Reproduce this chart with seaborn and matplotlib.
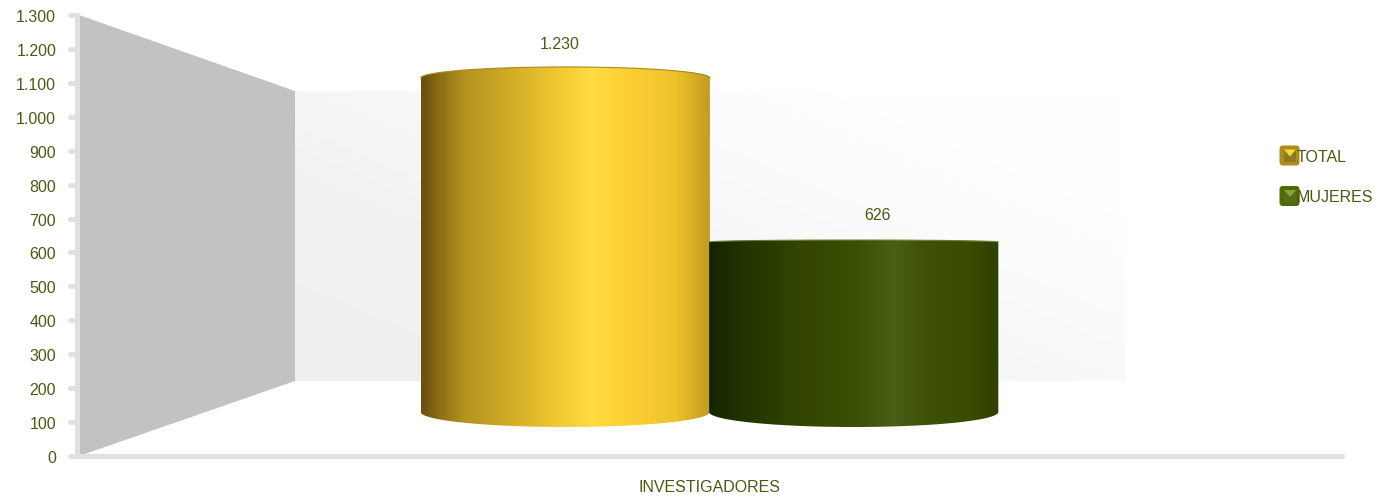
"""Investigadores: total y mujeres (cilindros 3D falsos)"""

import numpy as np
import pandas as pd
import matplotlib.pyplot as plt
import seaborn as sns
from matplotlib.colors import LinearSegmentedColormap
from matplotlib.markers import MarkerStyle, TICKLEFT
from matplotlib.patches import FancyBboxPatch, Polygon, Rectangle
from matplotlib.ticker import FuncFormatter
from matplotlib.transforms import ScaledTranslation

categories = ['INVESTIGADORES']
series_names = ['TOTAL', 'MUJERES']
series_values = [1230, 626]
y_ticks = list(range(0, 1400, 100))

W, H = 1378, 499
TEXT = '#4a5a12'
AXIS = '#e0e0e0'
FONT = 11.5

sns.set_theme(style='white')
plt.rcParams['font.family'] = ['Liberation Sans', 'DejaVu Sans']

fig = plt.figure(figsize=(W / 100, H / 100), dpi=100, facecolor='white')


def px_axes(x0, x1, y_top, y_bottom, **kw):
    return fig.add_axes([x0 / W, 1 - y_bottom / H, (x1 - x0) / W, (y_bottom - y_top) / H], **kw)


def miles(v):
    return f'{int(v):,}'.replace(',', '.')


# capa de pixeles para paredes y textos
bg = px_axes(0, W, 0, H)
xx, yy = np.meshgrid(np.linspace(0, 1, 300), np.linspace(0, 1, 150))
wall_cmap = LinearSegmentedColormap.from_list(
    'wall', [(0, '#efefef'), (0.3, '#f1f1f1'), (0.55, '#f9f9f9'), (0.8, '#fefefe'), (1, '#ffffff')])
bg.imshow(xx * 0.55 + (1 - yy) * 0.45, extent=(295, 1125, 381, 91), cmap=wall_cmap, vmin=0, vmax=1,
          aspect='auto', zorder=1)
bg.add_patch(Polygon([(79, 15), (295, 91), (295, 381), (79, 456)], closed=True,
                     facecolor='#c2c2c2', edgecolor='none', zorder=2))
bg.set_xlim(0, W)
bg.set_ylim(H, 0)
bg.axis('off')

# eje frontal: 0 en y=456, 1300 en y=15
front = px_axes(77, 1342, 15, 456)
front.patch.set_alpha(0)
front.set_xlim(0, 1)
front.set_ylim(0, y_ticks[-1])
front.set_yticks(y_ticks)
front.yaxis.set_major_formatter(FuncFormatter(lambda v, _: miles(v)))
front.set_xticks([])
front.tick_params(axis='y', left=True, length=5, width=3.6, color=AXIS, labelcolor=TEXT,
                  labelsize=FONT, pad=10)
one_px_down = ScaledTranslation(0, -1 / 100, fig.dpi_scale_trans)
for t in front.yaxis.get_major_ticks():
    t.tick1line.set_marker(MarkerStyle(TICKLEFT, capstyle='round'))
    t.label1.set_transform(t.label1.get_transform() + one_px_down)
sns.despine(ax=front, top=True, right=True)
for side in ['left', 'bottom']:
    front.spines[side].set_color(AXIS)
    front.spines[side].set_linewidth(3.6)
    front.spines[side].set_capstyle('round')

# cilindros: profundidad media, 0 en y=412, 1300 en y=59
BAR_BOTTOM, BAR_TOP = 412, 59
HORIZON = 236
df = pd.DataFrame({'cat': categories * 2, 'serie': series_names, 'valor': series_values})
bars = px_axes(77, 1342, BAR_TOP, BAR_BOTTOM)
bars.patch.set_alpha(0)
palette = {'TOTAL': '#d9ad28', 'MUJERES': '#364a05'}
sns.barplot(data=df, x='cat', y='valor', hue='serie', hue_order=series_names, palette=palette,
            width=0.456, gap=0, legend=False, ax=bars, saturation=1)
bar_patches = list(bars.patches)

ramps = {
    'TOTAL': [(0, '#67500f'), (0.06, '#8a6c14'), (0.15, '#b3931f'), (0.3, '#d0ab26'),
              (0.45, '#ecc530'), (0.59, '#ffdc40'), (0.72, '#fcd034'), (0.88, '#eec22b'),
              (1, '#c09b20')],
    'MUJERES': [(0, '#142400'), (0.12, '#243400'), (0.3, '#324400'), (0.5, '#3b4e05'),
                (0.64, '#4a5e16'), (0.75, '#3e5106'), (0.9, '#3a4c00'), (1, '#2f4000')],
}
rims = {'TOTAL': '#a98a1c', 'MUJERES': '#6f7f3a'}
label_shift = {'TOTAL': (-6, 34), 'MUJERES': (24, 27)}
units_per_px = y_ticks[-1] / (BAR_BOTTOM - BAR_TOP)

t_low = np.linspace(np.pi, 2 * np.pi, 80)
t_up = np.linspace(0, np.pi, 80)

for patch, name, value in zip(bar_patches, series_names, series_values):
    x0, w = patch.get_x(), patch.get_width()
    patch.set_visible(False)
    cx = x0 + w / 2
    half_w = w / 2 + 0.0003
    top_px = BAR_BOTTOM - value / units_per_px
    base_h = 15 * units_per_px
    cap_h = max(2, 0.07 * abs(top_px - HORIZON)) * units_per_px

    # silueta: base eliptica + tapa eliptica
    low = np.c_[cx + half_w * np.cos(t_low), base_h * np.sin(t_low)]
    up = np.c_[cx + half_w * np.cos(t_up), value + cap_h * np.sin(t_up)]
    sil = Polygon(np.r_[low, up], closed=True, transform=bars.transData,
                  facecolor='none', edgecolor='none')
    bars.add_patch(sil)
    sil.set_clip_on(False)

    cmap = LinearSegmentedColormap.from_list(name, ramps[name])
    im = bars.imshow(np.linspace(0, 1, 256).reshape(1, -1),
                     extent=(cx - half_w, cx + half_w, -base_h, value + cap_h),
                     cmap=cmap, aspect='auto', zorder=3)
    im.set_clip_box(fig.bbox)
    im.set_clip_path(sil)

    # borde fino de la tapa
    bars.plot(up[:, 0], up[:, 1], color=rims[name], lw=0.8, zorder=4, clip_on=False)

    dx, dy = label_shift[name]
    bars.annotate(miles(value), (cx, value), xytext=(dx, dy), textcoords='offset pixels',
                  ha='center', va='center', color=TEXT, fontsize=FONT, zorder=5,
                  annotation_clip=False)

bars.set_xlim(-0.5, 0.5)
bars.set_ylim(0, y_ticks[-1])
bars.axis('off')

# leyenda y texto de categoria
top = px_axes(0, W, 0, H)
top.set_xlim(0, W)
top.set_ylim(H, 0)
top.axis('off')
top.text(709, 487, categories[0], ha='center', va='center', color=TEXT, fontsize=FONT)

legend_y = [155.5, 196]
legend_face = ['#ad8c1a', '#4f6a00']
legend_inner = ['#8f7a22', '#5a6b1a']
legend_tip = ['#f6d83e', '#86a536']
for name, y, face, inner, tip in zip(series_names, legend_y, legend_face, legend_inner, legend_tip):
    top.add_patch(FancyBboxPatch((1281, y - 8.5), 17, 17, boxstyle='round,pad=1.5,rounding_size=3.5',
                                 facecolor=face, edgecolor='none', zorder=2))
    top.add_patch(Rectangle((1284, y - 6), 12, 12, facecolor=inner, edgecolor='none', zorder=3))
    top.add_patch(Polygon([(1284, y - 6), (1296, y - 6), (1290, y + 1)], closed=True,
                          facecolor=tip, edgecolor='none', zorder=4))
    top.text(1297, y + 1.5, name, ha='left', va='center', color=TEXT, fontsize=FONT, zorder=5)

fig.savefig('out.png', dpi=100)
